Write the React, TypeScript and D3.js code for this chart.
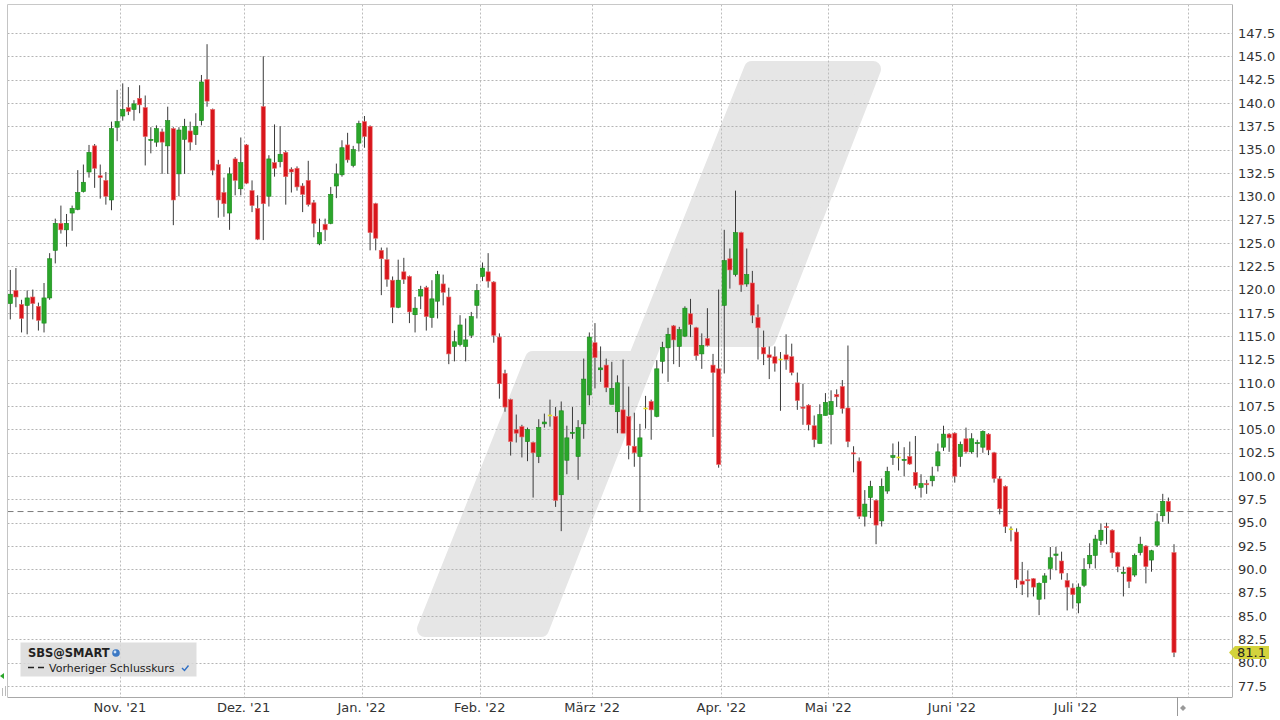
import React from 'react';
import * as d3 from 'd3';

// Daily OHLC, Xetra, Oct 4 2021 .. end of July 2022
const opens = [
  118.5, 119.9, 118.4, 118.3, 119.2, 118.2, 116.4, 119.1, 124.2, 127.1,
  126.4, 128.2, 128.6, 130.5, 132.6, 135.4, 132.2, 131.7, 129.6, 137.4,
  138.6, 139.5, 139.3, 140.5, 139.5, 136.0, 135.8, 136.9, 135.4, 137.25,
  132.4, 136.1, 137.0, 136.6, 138.1, 142.5, 139.3, 133.4, 130.4, 128.2,
  134.0, 130.8, 135.5, 130.6, 128.7, 139.6, 130.0, 133.6, 133.7, 134.7,
  132.9, 133.0, 131.1, 131.7, 129.3, 124.9, 127.0, 127.1, 131.1, 132.3,
  135.5, 133.3, 135.7, 138.0, 137.5, 129.2, 124.2, 123.2, 121.0, 118.1,
  121.9, 121.4, 117.3, 119.3, 120.2, 117.0, 118.75, 120.6, 119.2, 113.9,
  114.1, 113.9, 115.1, 118.3, 121.4, 121.9, 120.8, 114.9, 111.0, 108.2,
  105.0, 105.3, 103.7, 103.6, 102.1, 105.6, 106.5, 106.4, 98.0, 101.7,
  104.6, 102.1, 105.6, 108.7, 114.3, 111.4, 111.9, 107.7, 106.9, 107.1,
  106.4, 103.2, 102.1, 107.25, 108.0, 106.4, 112.3, 113.75, 116.1, 113.9,
  115.0, 117.4, 115.9, 113.1, 114.75, 111.9, 111.5, 118.3, 123.3, 121.6,
  126.1, 120.6, 120.7, 117.0, 113.8, 113.0, 112.8, 112.5, 113.0, 112.8,
  110.0, 107.4, 107.6, 105.4, 103.5, 106.5, 106.6, 108.75, 109.6, 107.3,
  102.5, 101.6, 95.7, 97.7, 97.4, 95.2, 98.4, 102.0, 102.0, 101.7,
  102.1, 100.4, 98.8, 99.2, 99.5, 101.1, 103.1, 104.5, 104.6, 102.1,
  104.0, 102.6, 103.5, 103.1, 104.5, 102.5, 99.7, 98.9, 94.3, 94.0,
  88.75, 88.9, 89.0, 86.8, 88.6, 90.1, 91.5, 90.9, 88.8, 88.0,
  86.4, 88.3, 90.6, 91.5, 93.1, 94.6, 94.2, 91.8, 89.6, 90.2,
  89.4, 91.8, 92.5, 91.0, 92.6, 95.75, 97.3, 91.8,
];

const highs = [
  122.1, 122.3, 118.9, 119.9, 120.0, 118.6, 120.7, 123.9, 127.6, 129.0,
  128.1, 129.0, 132.8, 133.4, 135.5, 135.6, 133.4, 132.6, 138.0, 141.4,
  142.1, 141.7, 140.3, 141.9, 140.8, 137.4, 137.6, 137.25, 139.6, 137.4,
  137.4, 138.3, 138.0, 138.9, 143.0, 146.3, 139.4, 133.9, 132.0, 133.1,
  134.2, 136.3, 135.6, 131.7, 130.1, 145.0, 134.4, 137.7, 137.5, 134.9,
  133.1, 133.2, 131.4, 133.8, 129.6, 127.6, 127.6, 131.0, 133.5, 136.0,
  136.8, 135.4, 138.1, 138.6, 137.6, 129.3, 124.5, 124.5, 121.4, 123.2,
  123.4, 121.5, 119.2, 120.4, 120.4, 121.0, 122.0, 121.6, 120.2, 115.6,
  117.25, 116.9, 117.6, 120.6, 122.9, 123.9, 120.9, 115.3, 111.4, 108.3,
  106.6, 105.5, 105.2, 103.7, 106.1, 106.7, 108.2, 107.4, 108.0, 105.4,
  107.4, 106.0, 112.6, 115.4, 116.4, 113.9, 112.6, 112.25, 110.8, 112.5,
  109.6, 106.8, 105.6, 108.6, 108.2, 112.4, 114.4, 115.9, 116.2, 116.0,
  118.2, 119.0, 116.0, 115.3, 118.0, 113.1, 120.0, 126.4, 124.4, 130.6,
  126.2, 124.4, 122.0, 118.4, 115.6, 113.9, 113.9, 113.3, 115.2, 114.2,
  111.1, 109.9, 107.7, 106.5, 107.7, 108.9, 109.2, 109.3, 110.3, 114.0,
  103.2, 102.0, 98.5, 99.5, 97.5, 99.75, 101.0, 103.5, 103.7, 103.1,
  103.7, 104.3, 100.2, 99.6, 101.0, 103.5, 105.4, 104.6, 104.7, 103.7,
  105.2, 104.6, 103.9, 104.9, 104.6, 102.6, 100.0, 99.0, 94.6, 94.4,
  90.8, 89.9, 89.05, 88.6, 89.6, 92.4, 92.4, 91.9, 89.6, 88.5,
  88.5, 91.2, 92.8, 93.7, 94.9, 95.0, 94.3, 91.9, 90.3, 90.3,
  91.7, 93.5, 92.6, 92.1, 96.0, 98.1, 97.7, 92.7,
];

const lows = [
  116.8, 118.1, 115.4, 115.2, 116.8, 115.6, 115.4, 118.9, 122.8, 126.0,
  124.6, 126.3, 128.5, 130.4, 132.0, 130.9, 129.75, 129.1, 128.5, 135.9,
  138.1, 138.7, 138.1, 138.9, 133.3, 134.6, 135.3, 132.4, 132.4, 126.9,
  130.0, 132.4, 134.9, 135.5, 137.6, 139.6, 132.25, 127.7, 127.8, 126.4,
  130.1, 130.1, 131.3, 128.3, 125.3, 125.3, 128.9, 132.1, 133.1, 129.1,
  130.4, 130.6, 128.3, 128.9, 125.6, 124.75, 125.2, 127.0, 129.8, 132.1,
  133.6, 133.1, 134.8, 135.2, 124.2, 124.2, 119.4, 120.3, 116.4, 118.0,
  120.6, 116.4, 115.4, 117.9, 115.6, 115.9, 116.9, 118.3, 112.0, 112.3,
  113.9, 112.3, 114.8, 116.9, 120.9, 120.2, 114.3, 108.3, 106.9, 102.2,
  103.6, 102.0, 101.6, 97.7, 101.4, 105.2, 105.3, 96.7, 94.1, 100.2,
  104.0, 99.6, 104.0, 107.6, 109.4, 110.1, 109.0, 107.7, 104.6, 104.6,
  101.8, 101.0, 96.2, 105.1, 103.9, 106.3, 111.0, 110.1, 112.0, 111.7,
  114.9, 114.9, 112.4, 111.5, 113.9, 104.2, 100.9, 111.0, 120.1, 121.4,
  119.75, 120.3, 116.4, 112.5, 111.9, 110.4, 111.2, 107.0, 111.4, 110.8,
  107.1, 105.5, 104.9, 103.1, 103.5, 106.5, 103.4, 107.4, 106.7, 103.1,
  100.4, 95.4, 94.6, 95.5, 92.7, 94.6, 98.1, 101.2, 100.6, 100.0,
  101.2, 98.6, 97.7, 98.1, 98.9, 100.5, 102.7, 102.6, 99.3, 101.0,
  102.4, 102.4, 102.0, 102.5, 102.25, 99.3, 95.9, 93.9, 93.0, 88.0,
  87.25, 87.0, 87.1, 85.1, 86.8, 88.9, 89.9, 88.9, 85.6, 85.8,
  85.3, 88.1, 90.1, 90.1, 92.6, 92.7, 91.2, 89.7, 87.1, 88.0,
  89.2, 91.5, 88.5, 89.75, 92.4, 95.1, 94.9, 80.6,
];

const closes = [
  119.5, 119.2, 116.9, 119.1, 118.5, 116.7, 119.1, 123.3, 127.1, 126.4,
  127.1, 128.7, 130.4, 131.5, 134.7, 133.0, 132.0, 130.0, 137.25, 138.0,
  139.3, 139.1, 139.9, 139.8, 136.4, 136.1, 137.25, 135.8, 138.1, 129.6,
  137.1, 137.5, 135.8, 137.5, 142.25, 140.2, 132.8, 129.6, 129.2, 132.4,
  131.7, 133.6, 131.4, 129.0, 125.4, 129.2, 134.0, 133.0, 134.5, 132.1,
  132.6, 131.0, 130.2, 129.1, 127.1, 126.1, 126.4, 130.2, 132.4, 135.2,
  133.9, 135.0, 137.8, 136.4, 126.1, 125.5, 123.3, 121.1, 118.1, 121.0,
  121.1, 117.6, 118.0, 120.0, 117.1, 119.0, 121.6, 119.7, 113.1, 114.4,
  116.2, 114.6, 117.1, 119.9, 122.3, 120.9, 115.1, 109.9, 107.4, 103.7,
  104.6, 104.2, 105.0, 102.5, 105.2, 105.8, 106.5, 97.4, 107.0, 104.1,
  104.7, 105.2, 110.4, 114.9, 112.7, 111.6, 109.5, 109.4, 110.0, 104.6,
  103.3, 102.5, 104.1, 107.25, 107.1, 111.5, 113.8, 115.2, 114.6, 115.7,
  118.0, 116.25, 112.9, 114.0, 114.0, 111.1, 101.25, 123.1, 122.1, 126.1,
  120.5, 121.6, 117.25, 115.9, 113.1, 112.7, 112.1, 112.5, 112.5, 111.1,
  108.1, 107.3, 105.5, 103.9, 106.6, 107.9, 108.0, 108.5, 107.25, 103.7,
  102.4, 95.7, 97.0, 98.9, 94.75, 98.9, 100.5, 102.2, 102.0, 101.8,
  101.3, 99.0, 99.2, 99.1, 100.0, 102.6, 104.5, 104.1, 100.0, 103.4,
  102.6, 104.0, 103.6, 104.8, 102.8, 99.75, 96.5, 94.6, 94.3, 88.9,
  88.4, 88.8, 88.1, 88.5, 89.3, 91.25, 91.65, 89.6, 88.1, 87.3,
  88.1, 90.0, 91.5, 93.25, 94.2, 94.5, 91.8, 90.3, 89.7, 88.7,
  91.5, 92.7, 90.3, 92.0, 95.1, 97.3, 96.2, 81.1,
];

const previousClose = 96.2;

const yTickValues = [
  77.5, 80, 82.5, 85, 87.5, 90, 92.5, 95, 97.5, 100, 102.5, 105, 107.5, 110,
  112.5, 115, 117.5, 120, 122.5, 125, 127.5, 130, 132.5, 135, 137.5, 140,
  142.5, 145, 147.5,
];

// first trading day index of each month
const monthLabels = ["Nov. '21", "Dez. '21", "Jan. '22", "Feb. '22", "März '22", "Apr. '22", "Mai '22", "Juni '22", "Juli '22", ''];
const monthStarts = [20, 42, 63, 84, 104, 127, 146, 168, 190, 210];

const FONT = '"DejaVu Sans", Verdana, sans-serif';
const GREEN = '#2ba62b';
const GREEN_EDGE = '#188a18';
const RED = '#d8161c';
const RED_EDGE = '#ea6a6a';
const DOJI = '#e4e01e';

const plot = { left: 7.5, right: 1232.5, top: 4.5, bottom: 697 };

const App: React.FC = () => {
  const x = d3.scaleLinear().domain([0, opens.length - 1]).range([10.3, 1174]);
  const y = d3.scaleLinear().domain([77.5, 147.5]).range([686, 33]);
  const bodyW = 4.2;

  const lastClose = closes[closes.length - 1];
  const tagY = y(lastClose);

  return (
    <svg
      width={1280}
      height={720}
      style={{ position: 'fixed', left: 0, top: 0, background: '#fff' }}
      fontFamily={FONT}
    >
      <rect x={0} y={0} width={1280} height={720} fill="#fff" />

      {/* watermark */}
      <path
        d="M752,69 L873,69 L768,339 L655,339 L541,629 L425,629 L533,359 L636,359 Z"
        fill="#e6e6e6"
        stroke="#e6e6e6"
        strokeWidth={16}
        strokeLinejoin="round"
      />

      {/* horizontal grid */}
      {yTickValues.map((v) => (
        <line
          key={'h' + v}
          x1={plot.left}
          x2={plot.right}
          y1={Math.round(y(v)) + 0.5}
          y2={Math.round(y(v)) + 0.5}
          stroke="#b4b4b4"
          strokeDasharray="2,2"
        />
      ))}

      {/* vertical month grid */}
      {monthStarts.map((m) => (
        <line
          key={'v' + m}
          x1={Math.round(x(m - 0.5)) + 0.5}
          x2={Math.round(x(m - 0.5)) + 0.5}
          y1={plot.top}
          y2={plot.bottom}
          stroke="#bcbcbc"
          strokeDasharray="2,2"
        />
      ))}

      {/* previous close */}
      <line
        x1={plot.left}
        x2={plot.right}
        y1={y(previousClose)}
        y2={y(previousClose)}
        stroke="#7a7a7a"
        strokeDasharray="6,4"
      />

      {/* candles */}
      {opens.map((o, i) => {
        const c = closes[i];
        const cx = x(i);
        const top = y(Math.max(o, c));
        const bot = y(Math.min(o, c));
        const flat = o === c;
        const up = c > o;
        return (
          <g key={'c' + i}>
            <line x1={cx} x2={cx} y1={y(highs[i])} y2={y(lows[i])} stroke="#3a3a3a" strokeWidth={1} />
            {flat ? (
              <rect x={cx - bodyW / 2} y={top - 0.8} width={bodyW} height={1.6} fill={DOJI} />
            ) : (
              <rect
                x={cx - bodyW / 2}
                y={top}
                width={bodyW}
                height={Math.max(1.2, bot - top)}
                fill={up ? GREEN : RED}
                stroke={up ? GREEN_EDGE : RED_EDGE}
                strokeWidth={0.6}
              />
            )}
          </g>
        );
      })}

      {/* frame */}
      <line x1={plot.left} x2={plot.left} y1={plot.top} y2={plot.bottom} stroke="#c4c4c4" />
      <line x1={plot.right} x2={plot.right} y1={plot.top} y2={plot.bottom} stroke="#b0b0b0" />
      <line x1={plot.left} x2={plot.right} y1={plot.top} y2={plot.top} stroke="#c8c8c8" />
      <line x1={plot.left} x2={plot.right} y1={plot.bottom + 0.5} y2={plot.bottom + 0.5} stroke="#a8a8a8" />

      {/* y axis labels */}
      {yTickValues.map((v) => (
        <text key={'t' + v} x={1238} y={y(v)} dy="0.36em" fontSize={13} fill="#333">
          {v.toFixed(1)}
        </text>
      ))}

      {/* x axis labels */}
      {monthStarts.map((m, i) =>
        monthLabels[i] ? (
          <text key={'m' + m} x={x(m - 0.5)} y={712} textAnchor="middle" fontSize={13} fill="#333">
            {monthLabels[i]}
          </text>
        ) : null
      )}

      {/* current-date marker */}
      <line x1={1177.5} x2={1177.5} y1={plot.bottom} y2={716} stroke="#999" />
      <path d="M1180,708 L1183,705 L1186,708 L1183,711 Z" fill="#999" />

      {/* left-edge markers */}
      <path d="M0,676 L4,673 L4,679 Z" fill="#2ba62b" />
      <line x1={2.5} x2={2.5} y1={688} y2={696} stroke="#bbb" />
      <line x1={5.5} x2={5.5} y1={686} y2={696} stroke="#bbb" />

      {/* last price tag */}
      <path
        d={`M1229,${tagY} L1235,${tagY - 6.5} H1269 V${tagY + 6.5} H1235 Z`}
        fill="#d3d33c"
      />
      <text x={1237} y={tagY} dy="0.36em" fontSize={13} fill="#222">
        {lastClose.toFixed(1)}
      </text>

      {/* legend */}
      <rect x={20.5} y={642.5} width={176} height={34} fill="#d9d9d9" fillOpacity={0.85} />
      <text x={28} y={657} fontSize={11.5} fontWeight="bold" fill="#222">
        SBS@SMART
      </text>
      <circle cx={116} cy={653} r={3.8} fill="#3b78c4" />
      <circle cx={115} cy={652} r={1.4} fill="#cfe2f7" />
      <line x1={28} x2={45} y1={667.5} y2={667.5} stroke="#222" strokeWidth={1.4} strokeDasharray="6,4" />
      <text x={49} y={671.5} fontSize={11} fill="#222">
        Vorheriger Schlusskurs
      </text>
      <path d="M182,668 L184.5,670.5 L188.5,665.5" fill="none" stroke="#2f6fc4" strokeWidth={1.4} />
    </svg>
  );
};

export default App;
